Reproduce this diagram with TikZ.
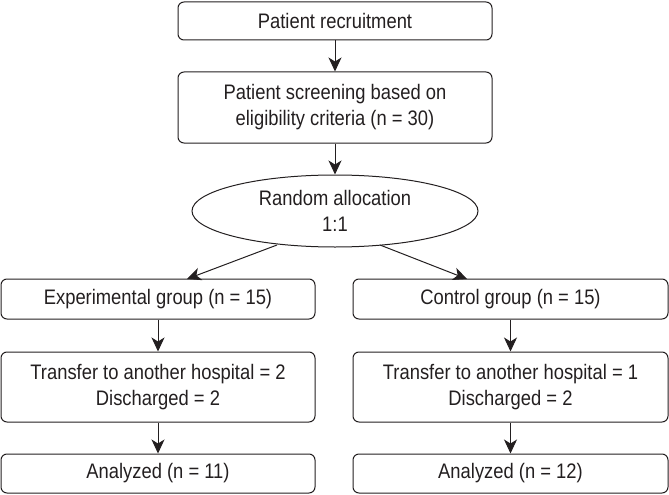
\documentclass[tikz,border=0pt]{standalone}
\usepackage{fontspec}
\setmainfont[FakeStretch=0.875]{Liberation Sans}
\usetikzlibrary{arrows.meta,shapes.geometric,calc}
\definecolor{ink}{HTML}{231F20}
\begin{document}
\begin{tikzpicture}[x=1pt,y=-1pt,
  box/.style={draw=ink,line width=1pt,rounded corners=6pt,align=center,inner sep=0pt,text=ink,font=\fontsize{21}{26}\selectfont},
  ell/.style={draw=ink,line width=1pt,ellipse,align=center,inner sep=0pt,text=ink,font=\fontsize{21}{26}\selectfont},
  arr/.style={draw=ink,line width=1pt,-{Stealth[length=14pt,width=13pt,inset=4pt]}}]
\useasboundingbox (0,0) rectangle (669,495);
\node[box,minimum width=314pt,minimum height=38pt] (rec) at (335,21) {Patient recruitment};
\node[box,minimum width=314pt,minimum height=71pt] (scr) at (335,107.5) {Patient screening based on\\eligibility criteria (n = 30)};
\node[ell,minimum width=286pt,minimum height=72pt] (ran) at (335,211) {Random allocation\\1:1};
\node[box,minimum width=314pt,minimum height=40pt] (exp) at (158,299) {Experimental group (n = 15)};
\node[box,minimum width=315pt,minimum height=40pt] (ctl) at (510.5,299) {Control group (n = 15)};
\node[box,minimum width=314pt,minimum height=70pt] (te) at (158,387) {Transfer to another hospital = 2\\Discharged = 2};
\node[box,minimum width=315pt,minimum height=70pt] (tc) at (510.5,387) {Transfer to another hospital = 1\\Discharged = 2};
\node[box,minimum width=314pt,minimum height=39pt] (ae) at (158,473.5) {Analyzed (n = 11)};
\node[box,minimum width=315pt,minimum height=39pt] (ac) at (510.5,473.5) {Analyzed (n = 12)};
\coordinate (ls) at (277,245);
\coordinate (lt) at (187,279);
\coordinate (rs) at (380,245);
\coordinate (rt) at (467,279);
\draw[arr] (rec) -- (scr);
\draw[arr] (scr) -- (ran);
\draw[arr] (ls) -- (lt);
\draw[arr] (rs) -- (rt);
\draw[arr] (exp) -- (te);
\draw[arr] (te) -- (ae);
\draw[arr] (ctl) -- (tc);
\draw[arr] (tc) -- (ac);
\end{tikzpicture}
\end{document}
